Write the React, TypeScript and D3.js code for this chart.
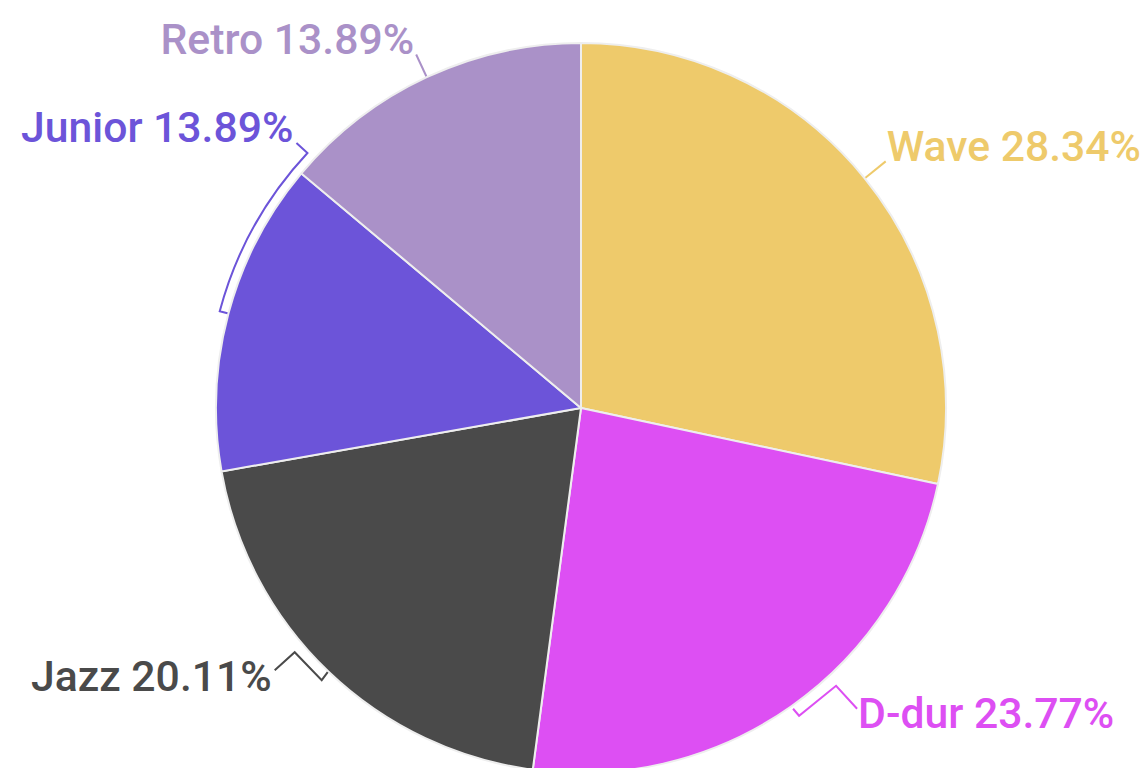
import React from "react";
import * as d3 from "d3";

const categories = ["Wave", "D-dur", "Jazz", "Junior", "Retro"];
const values = [28.34, 23.77, 20.11, 13.89, 13.89];
const colors = ["#EECA6B", "#DD4FF3", "#4A4A4A", "#6C54D9", "#AA91C8"];

const W = 1148;
const H = 768;
const cx = 581;
const cy = 408;
const R = 365;
const FS = 42.7;

function pt(a: number, r: number): [number, number] {
  return [cx + Math.sin(a) * r, cy - Math.cos(a) * r];
}

export default function App() {
  const pie = d3.pie<number>().sort(null).value((d) => d)(values);
  const arc = d3.arc<d3.PieArcDatum<number>>().innerRadius(0).outerRadius(R);
  const deg = Math.PI / 180;

  const labels = pie.map((p, i) => {
    const mid = (p.startAngle + p.endAngle) / 2;
    const text = `${categories[i]} ${values[i].toFixed(2)}%`;
    const col = colors[i];
    let path = "";
    let tx = 0, ty = 0;
    let anchor: "start" | "end" = "start";
    if (i === 0) {
      const a = pt(mid, R + 1), b = pt(mid, R + 27);
      path = d3.line()([a, b]) || "";
      tx = b[0] + 1; ty = b[1]; anchor = "start";
    } else if (i === 4) {
      const a = pt(mid, R + 1), b = pt(mid, R + 25);
      path = d3.line()([a, b]) || "";
      tx = b[0] - 2; ty = b[1] - 1; anchor = "end";
    } else if (i === 2) {
      const p0 = pt(mid, R + 1);
      const pts: [number, number][] = [p0, [p0[0] - 6, p0[1] + 8], [p0[0] - 33, p0[1] - 20], [p0[0] - 53, p0[1] - 2]];
      path = d3.line()(pts) || "";
      tx = pts[3][0] - 3; ty = pts[3][1] + 21; anchor = "end";
    } else if (i === 1) {
      const p0 = pt(mid, R + 3);
      const pts: [number, number][] = [p0, [p0[0] + 6, p0[1] + 7], [p0[0] + 43, p0[1] - 23], [p0[0] + 64, p0[1]]];
      path = d3.line()(pts) || "";
      tx = pts[3][0] + 1; ty = pts[3][1] + 19; anchor = "start";
    } else if (i === 3) {
      const t0 = pt(mid, R + 1);
      const rr = R + 9;
      const a1 = p.endAngle + 3 * deg;
      const s = pt(mid, rr);
      const e = pt(a1, rr);
      const endP: [number, number] = [e[0] - 11, e[1] - 10];
      path = `M${t0[0]},${t0[1]}L${s[0]},${s[1]}A${rr},${rr} 0 0 1 ${e[0]},${e[1]}L${endP[0]},${endP[1]}`;
      tx = endP[0] - 3; ty = endP[1] - 1; anchor = "end";
    }
    return { path, tx, ty, anchor, text, col };
  });

  return (
    <svg width={W} height={H} style={{ position: "absolute", left: 0, top: 0, display: "block" }}>
      <rect width={W} height={H} fill="#fff" />
      <g transform={`translate(${cx},${cy})`}>
        {pie.map((p, i) => (
          <path key={i} d={arc(p) || ""} fill={colors[i]} stroke="#eeeeee" strokeWidth={2} />
        ))}
      </g>
      {labels.map((l, i) => (
        <g key={i}>
          <path d={l.path} fill="none" stroke={l.col} strokeWidth={2} />
          <text x={l.tx} y={l.ty} textAnchor={l.anchor} fill={l.col}
            style={{ fontFamily: "Roboto", fontWeight: 500, fontSize: FS }}>{l.text}</text>
        </g>
      ))}
    </svg>
  );
}
